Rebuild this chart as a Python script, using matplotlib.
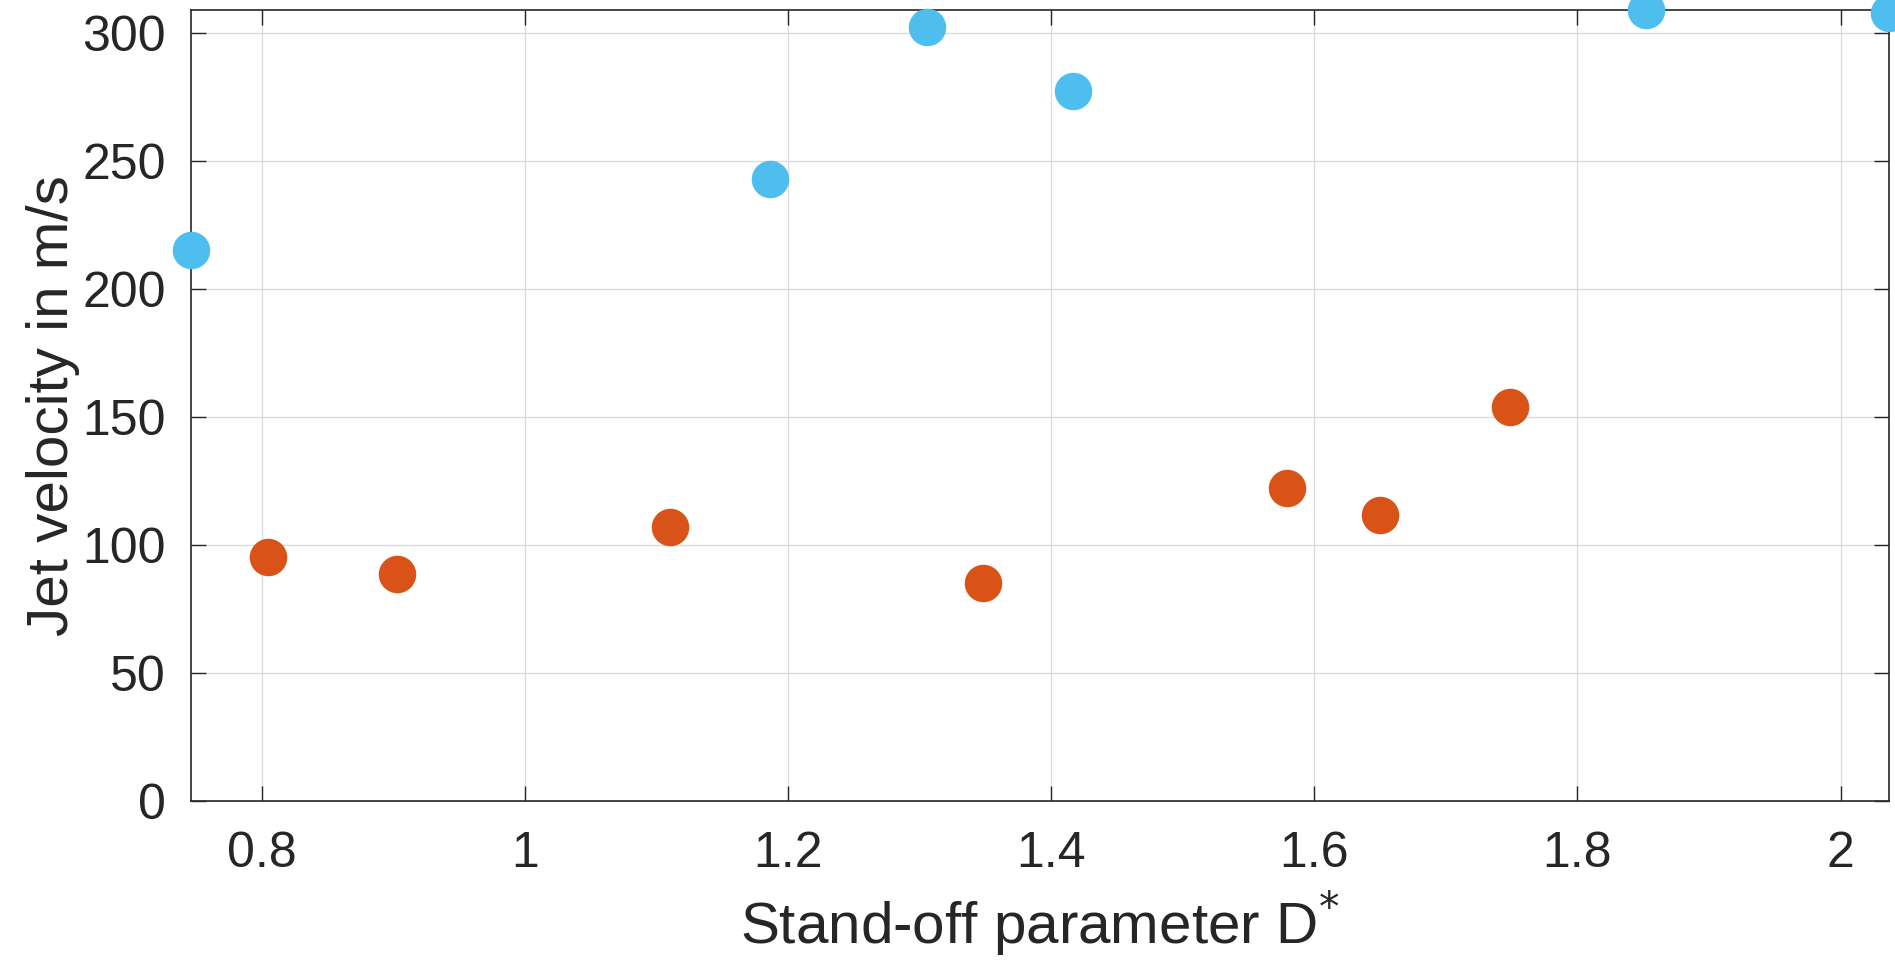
import matplotlib.pyplot as plt
from matplotlib.ticker import FuncFormatter
import numpy as np

# blue series
x_blue = [0.746, 1.186, 1.306, 1.417, 1.852, 2.037]
y_blue = [215.2, 243.0, 302.5, 277.5, 309.0, 307.8]
# orange series
x_orange = [0.805, 0.903, 1.110, 1.348, 1.579, 1.650, 1.749]
y_orange = [95.3, 88.6, 107.0, 85.2, 122.3, 111.6, 153.7]

xticks = [0.8, 1.0, 1.2, 1.4, 1.6, 1.8, 2.0]
yticks = [0, 50, 100, 150, 200, 250, 300]

plt.rcParams['font.family'] = ['Liberation Sans', 'DejaVu Sans']
dark = '#262626'

fig = plt.figure(figsize=(18.95, 9.75), dpi=100)
ax = fig.add_axes([0.1008, 0.1788, 0.896, 0.8109])

ax.plot(x_blue, y_blue, 'o', color='#4DBEEE', ms=27, mew=0, clip_on=False, zorder=3)
ax.plot(x_orange, y_orange, 'o', color='#D95319', ms=27, mew=0, clip_on=False, zorder=3)

ax.set_xlim(0.7463, 2.0368)
ax.set_ylim(0, 309)
ax.set_xticks(xticks)
ax.set_yticks(yticks)
ax.xaxis.set_major_formatter(FuncFormatter(lambda v, p: '%g' % v))

ax.grid(True, color='#dcdcdc', linewidth=1.0)
ax.set_axisbelow(True)
ax.tick_params(direction='in', top=True, right=True, length=11, width=1,
               colors=dark, labelsize=36)
ax.tick_params(axis='x', pad=22)
ax.tick_params(axis='y', pad=18)
for s in ax.spines.values():
    s.set_color(dark)
    s.set_linewidth(1.2)

ax.set_xlabel('Stand-off parameter D$^{*}$', fontsize=42, color=dark, labelpad=8)
ax.set_ylabel('Jet velocity in m/s', fontsize=42, color=dark, labelpad=2)

fig.savefig('out.png', dpi=100)
